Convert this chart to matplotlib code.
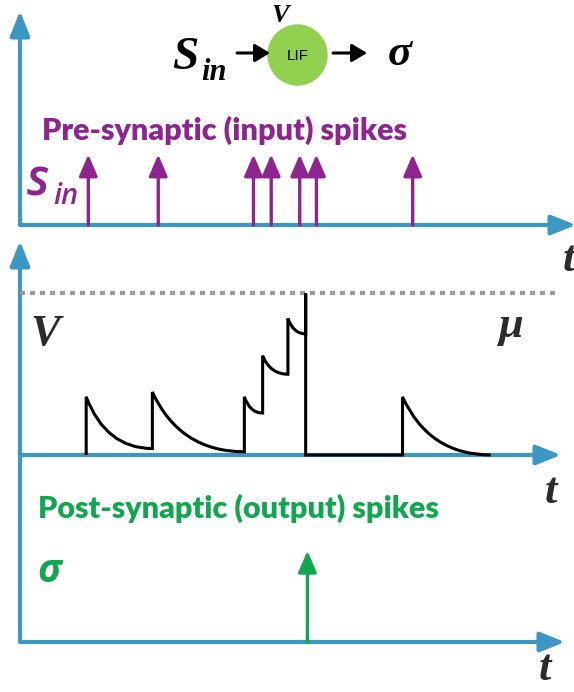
import matplotlib
matplotlib.use("Agg")
import matplotlib.pyplot as plt
from matplotlib.path import Path
from matplotlib.patches import PathPatch, Ellipse, FancyArrowPatch

# --- data (time in arbitrary units, V normalised so threshold mu = 1) ---
input_spike_t = [12.7, 25.7, 43.4, 46.7, 52.0, 55.1, 73.0]

jump_t = [12.3, 24.6, 41.7, 45.1, 49.8, 53.1, 71.1]
peak_v = [0.36, 0.39, 0.36, 0.615, 0.845, 1.0, 0.36]
decay_end_v = [0.04, 0.02, 0.26, 0.50, 0.75, 0.0, 0.0]
last_decay_end_t = 87.5
threshold = 1.0

output_spike_t = [53.4]

# --- style ---
AXIS_BLUE = "#3d97c3"
PURPLE = "#8e2490"
GREEN = "#13a650"
LIF_GREEN = "#92d050"
MATH_DARK = "#2b2b2b"
W, H = 574, 692


def fx(x):
    return x / W


def fy(y):
    return 1 - y / H


def make_axes(fig, left, base, right, top):
    ax = fig.add_axes([fx(left), fy(base), (right - left) / W, (base - top) / H])
    ax.set_axis_off()
    return ax


def fig_arrow(fig, p0, p1, col, lw, head_len, head_w, scale, z=3):
    fig.patches.append(FancyArrowPatch(
        (fx(p0[0]), fy(p0[1])), (fx(p1[0]), fy(p1[1])), transform=fig.transFigure,
        arrowstyle=f"-|>,head_length={head_len},head_width={head_w}",
        mutation_scale=scale, lw=lw, color=col, shrinkA=0, shrinkB=0, zorder=z))


def spike_arrows(ax, times, col):
    for t in times:
        ax.annotate("", xy=(t, 1), xytext=(t, 0),
                    arrowprops=dict(arrowstyle="-|>,head_length=0.65,head_width=0.28",
                                    color=col, lw=2.4, mutation_scale=20,
                                    shrinkA=0, shrinkB=0), annotation_clip=False)


fig = plt.figure(figsize=(W / 100, H / 100), dpi=100)

serif_bi = dict(family="Liberation Serif", weight="bold", style="italic")

# axis lines with arrow heads (pixel layout), kept below the axes content
for p0, p1 in [((20, 225), (576, 225)), ((20, 225), (20, 11)),
               ((20, 455), (561, 455)), ((20, 455), (20, 241)),
               ((20, 642), (565, 642))]:
    fig_arrow(fig, p0, p1, AXIS_BLUE, 3, 0.75, 0.3, 20, z=-1)

# ---------------- top panel: input spikes ----------------
ax1 = make_axes(fig, 20, 225, 573, 15)
ax1.set_xlim(0, 102.8)
ax1.set_ylim(0, 2.98)
spike_arrows(ax1, input_spike_t, PURPLE)

# ---------------- middle panel: membrane potential ----------------
ax2 = make_axes(fig, 20, 455, 558, 245)
ax2.set_xlim(0, 100)
ax2.set_ylim(0, 1.30)
ax2.plot([0, 100], [threshold, threshold], color="#999999", lw=3,
         dashes=(1.2, 1.2), solid_capstyle="butt", clip_on=False)

verts = [(jump_t[0], 0)]
codes = [Path.MOVETO]
n = len(jump_t)
for k in range(n):
    t0 = jump_t[k]
    verts.append((t0, peak_v[k]))
    codes.append(Path.LINETO)
    if peak_v[k] >= threshold:
        # fire and reset, stay at rest until the next input
        verts += [(t0, 0), (jump_t[k + 1], 0)]
        codes += [Path.LINETO, Path.LINETO]
        continue
    t1 = jump_t[k + 1] if k + 1 < n else last_decay_end_t
    verts += [(t0 + 0.3 * (t1 - t0), decay_end_v[k]), (t1, decay_end_v[k])]
    codes += [Path.CURVE3, Path.CURVE3]
ax2.add_patch(PathPatch(Path(verts, codes), fill=False, color="black", lw=2.2,
                        clip_on=False, capstyle="butt", joinstyle="miter", zorder=5))

# ---------------- bottom panel: output spikes ----------------
ax3 = make_axes(fig, 20, 642, 562, 455)
ax3.set_xlim(0, 100.7)
ax3.set_ylim(0, 2.05)
ax3.plot([0, 0], [0, 2.10], color=AXIS_BLUE, lw=3, clip_on=False,
         solid_capstyle="butt", zorder=0)
spike_arrows(ax3, output_spike_t, GREEN)

# ---------------- neuron sketch ----------------
fig.patches.append(Ellipse((fx(297.5), fy(55)), 59 / W, 60 / H,
                           transform=fig.transFigure, color=LIF_GREEN))
for x0, x1 in [(237, 270), (333, 367)]:
    fig_arrow(fig, (x0, 53), (x1, 53), "black", 2.2, 0.5, 0.3, 18)
fig.text(fx(298), fy(56), "LIF", ha="center", va="center", fontsize=11,
         family="Liberation Sans", color="black")
fig.text(fx(280), fy(16), "V", ha="center", va="center", fontsize=19, **serif_bi)
fig.text(fx(185), fy(58), "S", ha="center", va="center", fontsize=34, **serif_bi)
fig.text(fx(214), fy(73), "in", ha="center", va="center", fontsize=22, **serif_bi)
fig.text(fx(400), fy(54), "σ", ha="center", va="center", fontsize=32, **serif_bi)

# ---------------- labels ----------------
fig.text(fx(225), fy(130), "Pre-synaptic (input) spikes", ha="center", va="center",
         fontsize=22, family="Lato", weight="heavy", color=PURPLE)
fig.text(fx(38), fy(182), "s", ha="center", va="center", fontsize=36,
         family="Open Sans", style="italic", weight="semibold", color=PURPLE)
fig.text(fx(66), fy(196), "in", ha="center", va="center", fontsize=21,
         family="Open Sans", style="italic", weight="semibold", color=PURPLE)

fig.text(fx(45), fy(334), "V", ha="center", va="center", fontsize=32,
         color=MATH_DARK, **serif_bi)
fig.text(fx(511), fy(326), "μ", ha="center", va="center", fontsize=32,
         color=MATH_DARK, **serif_bi)

fig.text(fx(238), fy(508), "Post-synaptic (output) spikes", ha="center", va="center",
         fontsize=22, family="Lato", weight="heavy", color=GREEN)
fig.text(fx(49), fy(572), "σ", ha="center", va="center", fontsize=28,
         family=["Open Sans", "DejaVu Sans"], weight="bold", style="italic", color=GREEN)

for x, y in [(569, 260), (551, 492), (545, 669)]:
    fig.text(fx(x), fy(y), "t", ha="center", va="center", fontsize=32,
             color=MATH_DARK, **serif_bi)

fig.savefig("out.png", dpi=100)
